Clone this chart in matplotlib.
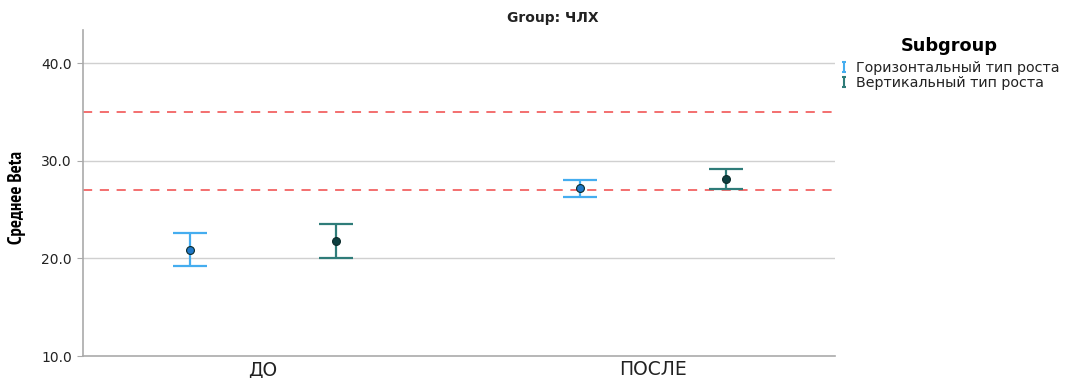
import matplotlib
matplotlib.use("Agg")
import matplotlib.pyplot as plt
from matplotlib import font_manager
from matplotlib.ft2font import FT2Font
from matplotlib.lines import Line2D
from matplotlib.path import Path
import numpy as np

plt.rcParams['font.family'] = ['DejaVu Sans']

# Data
periods = ["ДО", "ПОСЛЕ"]
subgroups = ["Горизонтальный тип роста", "Вертикальный тип роста"]
means = {
    "Горизонтальный тип роста": [20.9, 27.2],
    "Вертикальный тип роста": [21.8, 28.1],
}
lower = {
    "Горизонтальный тип роста": [19.2, 26.3],
    "Вертикальный тип роста": [20.0, 27.1],
}
upper = {
    "Горизонтальный тип роста": [22.6, 28.0],
    "Вертикальный тип роста": [23.5, 29.15],
}
reference_lines = [35.0, 27.0]
yticks = [10.0, 20.0, 30.0, 40.0]

line_colors = ["#45ADEF", "#2F7C79"]
marker_colors = ["#1F78C8", "#0D3F40"]
offsets = [-0.186, 0.186]


def condensed_bold_face():
    """Return a bold narrow/condensed font file that covers Cyrillic, or None."""
    best = None
    for f in font_manager.fontManager.ttflist:
        label = (f.name + " " + str(f.stretch) + " " + f.fname).lower()
        if not ("narrow" in label or "condensed" in label):
            continue
        w = f.weight if isinstance(f.weight, int) else 400
        if w < 600 and "bold" not in f.fname.lower():
            continue
        try:
            ft = FT2Font(f.fname)
            if ft.get_char_index(ord("С")) == 0:
                continue
        except Exception:
            continue
        score = 0 if "narrow" in label else 1
        if best is None or score < best[0]:
            best = (score, f.fname)
    return best[1] if best else None


narrow_file = condensed_bold_face()

fig = plt.figure(figsize=(10.7, 3.78), dpi=100)
ax = fig.add_axes([83 / 1070, 1 - 356 / 378, (835 - 83) / 1070, (356 - 30) / 378])

x = np.arange(len(periods))
for i, sg in enumerate(subgroups):
    m = np.array(means[sg])
    lo = np.array(lower[sg])
    hi = np.array(upper[sg])
    ax.errorbar(x + offsets[i], m, yerr=[m - lo, hi - m], fmt='none',
                ecolor=line_colors[i], elinewidth=1.6, capsize=12.5,
                capthick=1.6, zorder=3)
    ax.scatter(x + offsets[i], m, s=32, color=marker_colors[i],
               edgecolor="#0A2A2A", linewidth=0.8, zorder=4)

for yv in reference_lines:
    ax.axhline(yv, color="#F04848", linestyle=(0, (6, 5)), linewidth=1.1, zorder=2)

ax.set_ylim(10.0, 43.4)
ax.set_xlim(-0.4615, 1.4667)
ax.set_yticks(yticks)
ax.set_yticklabels([f"{v:.1f}" for v in yticks], fontsize=10, color="#222222")
ax.set_xticks(x)
ax.set_xticklabels(periods, fontsize=13.5, color="#222222")
ax.tick_params(axis='x', length=0, pad=3)
ax.tick_params(axis='y', length=4, color="#AAAAAA", pad=4)

for yv in [20.0, 30.0, 40.0]:
    ax.axhline(yv, color="#D0D0D0", linewidth=1.0, zorder=1)

for side in ["top", "right"]:
    ax.spines[side].set_visible(False)
for side in ["left", "bottom"]:
    ax.spines[side].set_color("#AAAAAA")
    ax.spines[side].set_linewidth(1.2)

if narrow_file:
    ax.set_ylabel("Среднее Beta", fontproperties=font_manager.FontProperties(
        fname=narrow_file, size=13.5), labelpad=11)
else:
    ax.set_ylabel("Среднее Beta", fontsize=10.5, fontweight="bold",
                  family=["Liberation Sans", "DejaVu Sans"], labelpad=12)
ax.yaxis.label.set_y(0.486)

fig.text(553 / 1070, 1 - 18 / 378, "Group: ЧЛХ", ha="center", va="center",
         fontsize=10, fontweight="bold", color="#222222")

# errorbar-shaped legend glyph
ibeam = Path([(-0.55, -1), (0.55, -1), (0, -1), (0, 1), (-0.55, 1), (0.55, 1)],
             [Path.MOVETO, Path.LINETO, Path.MOVETO, Path.LINETO,
              Path.MOVETO, Path.LINETO])
handles = [Line2D([], [], linestyle='none', marker=ibeam, markersize=6.5,
                  markeredgewidth=1.5, markeredgecolor=c, fillstyle='none')
           for c in line_colors]
leg = fig.legend(handles, subgroups, loc="upper left",
                 bbox_to_anchor=(829 / 1070, 1 - 27 / 378), frameon=False,
                 title="Subgroup", fontsize=10.3, handlelength=0.7,
                 handletextpad=0.5, labelspacing=0.1, borderpad=0.2)
leg.get_title().set_fontweight("bold")
leg.get_title().set_fontsize(12.8)
for t in leg.get_texts():
    t.set_color("#222222")
leg._legend_box.align = "center"
leg._legend_box.sep = 4.3

fig.savefig("out.png", dpi=100)
